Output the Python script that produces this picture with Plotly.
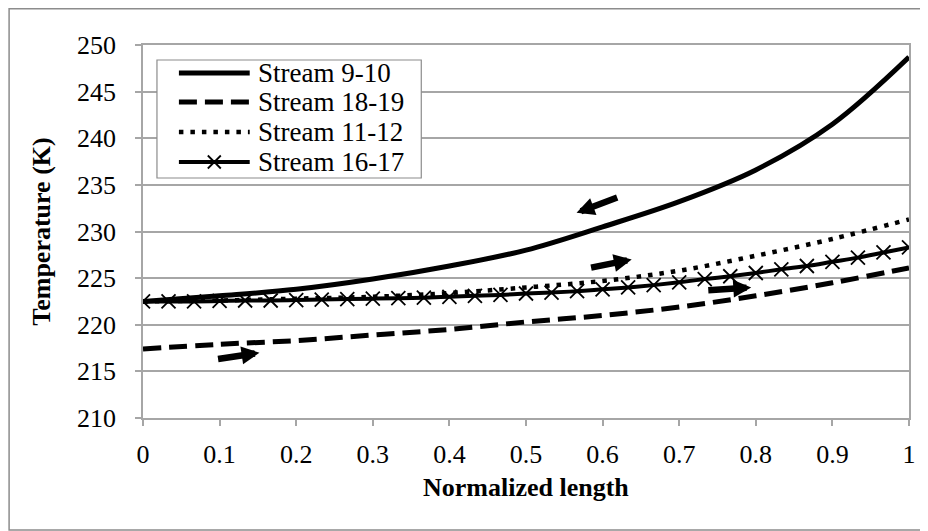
import plotly.graph_objects as go

# Data
x11 = [0, 0.1, 0.2, 0.3, 0.4, 0.5, 0.6, 0.7, 0.8, 0.9, 1.0]
stream_9_10 = [222.5, 223.1, 223.8, 224.9, 226.3, 228.0, 230.5, 233.2, 236.6, 241.5, 248.7]
stream_18_19 = [217.4, 217.9, 218.3, 218.9, 219.5, 220.3, 221.0, 221.9, 223.1, 224.5, 226.1]
stream_11_12 = [222.5, 222.6, 222.8, 223.0, 223.4, 224.0, 224.7, 225.8, 227.4, 229.2, 231.3]

x31 = [k / 30 for k in range(31)]
stream_16_17 = [222.5, 222.5, 222.5, 222.55, 222.6, 222.6, 222.65, 222.7, 222.75, 222.8,
                222.85, 222.9, 223.0, 223.1, 223.2, 223.35, 223.45, 223.6, 223.8, 224.0,
                224.25, 224.55, 224.9, 225.2, 225.55, 225.95, 226.3, 226.75, 227.2, 227.75,
                228.3]

series_names = ["Stream 9-10", "Stream 18-19", "Stream 11-12", "Stream 16-17"]

x_ticks = [0, 0.1, 0.2, 0.3, 0.4, 0.5, 0.6, 0.7, 0.8, 0.9, 1]
x_tick_labels = ["0", "0.1", "0.2", "0.3", "0.4", "0.5", "0.6", "0.7", "0.8", "0.9", "1"]
y_ticks = [210, 215, 220, 225, 230, 235, 240, 245, 250]

# Flow-direction arrows: (tail_x, tail_y, head_x, head_y)
arrows = [
    (0.621, 233.7, 0.566, 232.0),
    (0.583, 226.1, 0.638, 227.0),
    (0.736, 223.7, 0.794, 224.0),
    (0.096, 216.3, 0.152, 217.0),
]

FONT = "Liberation Serif, Times New Roman, serif"
GRID = "#a6a6a6"
BORDER = "#8c8c8c"

# figure geometry (page has an 8px body margin)
W, H = 920, 523
L, R, T, B = 135, 17, 37, 113
PW, PH = W - L - R, H - T - B


def px(fx):
    return (fx - L) / PW


def py(fy):
    return (H - B - fy) / PH


styles = [
    dict(color="black", width=5),
    dict(color="black", width=5, dash="18px,8px"),
    dict(color="black", width=4.5, dash="4.5px,7px"),
    dict(color="black", width=4),
]

fig = go.Figure()
fig.add_trace(go.Scatter(x=x11, y=stream_9_10, name=series_names[0], mode="lines",
                         line=dict(styles[0], shape="spline")))
fig.add_trace(go.Scatter(x=x11, y=stream_18_19, name=series_names[1], mode="lines",
                         line=dict(styles[1], shape="spline")))
fig.add_trace(go.Scatter(x=x11, y=stream_11_12, name=series_names[2], mode="lines",
                         line=dict(styles[2], shape="spline")))
fig.add_trace(go.Scatter(x=x31, y=stream_16_17, name=series_names[3], mode="lines+markers",
                         line=dict(styles[3], shape="spline"),
                         marker=dict(symbol="x-thin", size=14, color="black",
                                     line=dict(color="black", width=1.8))))

for tx, ty, hx, hy in arrows:
    fig.add_annotation(x=hx, y=hy, ax=tx, ay=ty, xref="x", yref="y", axref="x", ayref="y",
                       text="", showarrow=True, arrowhead=2, arrowsize=0.55,
                       arrowwidth=6.5, arrowcolor="black")

# outer chart border
fig.add_shape(type="rect", xref="paper", yref="paper",
              x0=px(0.75), x1=px(918), y0=py(522), y1=py(0.75),
              line=dict(color=BORDER, width=1.5), fillcolor="rgba(0,0,0,0)", layer="below")

# manual legend (box, samples, labels)
fig.add_shape(type="rect", xref="paper", yref="paper",
              x0=px(149), x1=px(414), y0=py(170), y1=py(52),
              line=dict(color=BORDER, width=1.2), fillcolor="white", layer="above")
entry_y = [65, 94, 124, 154]
for i, name in enumerate(series_names):
    yy = py(entry_y[i])
    fig.add_shape(type="line", xref="paper", yref="paper",
                  x0=px(171), x1=px(242), y0=yy, y1=yy, line=styles[i], layer="above")
    fig.add_annotation(x=px(248), y=yy, xref="paper", yref="paper", text=name,
                       showarrow=False, xanchor="left", yanchor="middle",
                       font=dict(family=FONT, size=27, color="black"))
# X marker on the last legend sample
cx, cy, d = 206.5, entry_y[3], 6.5
for sgn in (1, -1):
    fig.add_shape(type="line", xref="paper", yref="paper",
                  x0=px(cx - d), x1=px(cx + d), y0=py(cy - sgn * d), y1=py(cy + sgn * d),
                  line=dict(color="black", width=1.8), layer="above")

# axis titles
fig.add_annotation(x=0.5, y=py(480), xref="paper", yref="paper",
                   text="<b>Normalized length</b>", showarrow=False,
                   xanchor="center", yanchor="middle",
                   font=dict(family=FONT, size=26, color="black"))
fig.add_annotation(x=px(33), y=0.5, xref="paper", yref="paper",
                   text="<b>Temperature (K)</b>", showarrow=False, textangle=-90,
                   xanchor="center", yanchor="middle",
                   font=dict(family=FONT, size=26, color="black"))

fig.update_layout(
    width=W, height=H,
    margin=dict(l=L, r=R, t=T, b=B),
    paper_bgcolor="white", plot_bgcolor="white",
    font=dict(family=FONT, color="black", size=26),
    showlegend=False,
    xaxis=dict(range=[0, 1], tickvals=x_ticks, ticktext=x_tick_labels,
               showgrid=False, zeroline=False,
               showline=True, linecolor=GRID, linewidth=1.5, mirror=True,
               ticks="outside", ticklen=6, tickcolor=GRID, tickwidth=1.5,
               ticklabelstandoff=6,
               tickfont=dict(family=FONT, size=26, color="black")),
    yaxis=dict(range=[210, 250], tickvals=y_ticks,
               showgrid=True, gridcolor=GRID, gridwidth=1.5, zeroline=False,
               showline=True, linecolor=GRID, linewidth=1.5, mirror=True,
               ticks="outside", ticklen=6, tickcolor=GRID, tickwidth=1.5,
               ticklabelstandoff=14,
               tickfont=dict(family=FONT, size=26, color="black")),
)

fig.write_html("out.html")
